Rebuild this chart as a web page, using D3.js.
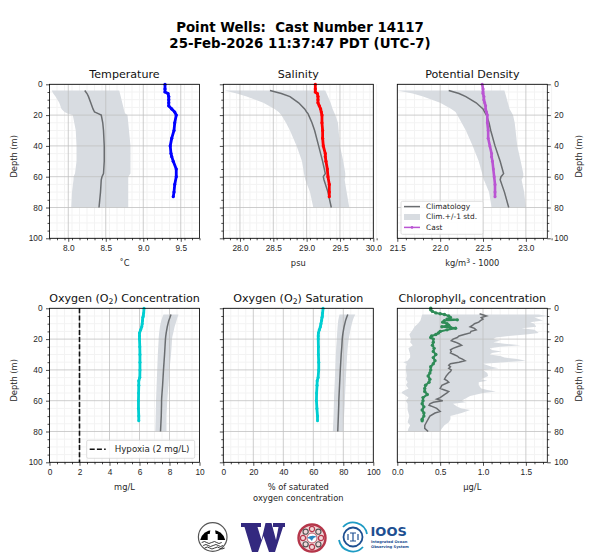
<!DOCTYPE html>
<html>
<head>
<meta charset="utf-8">
<script src="https://cdn.jsdelivr.net/npm/d3@7"></script>
<style>
  body { margin: 0; background: #fff; }
  svg { display: block; font-family: "DejaVu Sans", sans-serif; }
  .tick text { font-size: 8.3px; fill: #262626; }
  .axis path, .axis line { stroke: #000; stroke-width: 0.7; }
  .grid-major { stroke: #c0c0c0; stroke-width: 0.8; }
  .grid-minor { stroke: #f3f3f3; stroke-width: 1; }
  .panel-title { font-size: 11.1px; fill: #111; text-anchor: middle; }
  .axis-title { font-size: 8.3px; fill: #262626; text-anchor: middle; }
</style>
</head>
<body>
<svg id="chart" width="600" height="560"></svg>
<script>
// Depths shared by the climatology and cast profiles of the first five panels
const climDepth = [4, 6, 8, 12, 16, 18, 19, 20, 25, 30, 40, 50, 58, 60, 62, 70, 80];
const castDepth = [0, 3, 5, 6, 8, 10, 12, 14, 16, 18, 20, 25, 30, 35, 40, 45, 47, 50, 55, 60, 65, 70, 73];

const tempMean = [8.22, 8.25, 8.27, 8.30, 8.33, 8.35, 8.40, 8.44, 8.46, 8.47, 8.48, 8.48, 8.47, 8.45, 8.44, 8.43, 8.41];
const tempLow = [7.78, 7.80, 7.83, 7.88, 7.91, 7.95, 7.99, 8.06, 8.08, 8.10, 8.11, 8.11, 8.09, 8.07, 8.07, 8.05, 8.04];
const tempHigh = [8.68, 8.69, 8.70, 8.72, 8.74, 8.75, 8.76, 8.79, 8.80, 8.81, 8.83, 8.83, 8.83, 8.80, 8.80, 8.80, 8.80];
const tempCast = [9.29, 9.29, 9.29, 9.33, 9.34, 9.34, 9.34, 9.34, 9.38, 9.42, 9.44, 9.42, 9.41, 9.38, 9.36, 9.37, 9.38, 9.40, 9.44, 9.44, 9.42, 9.41, 9.40];

const salMean = [28.45, 28.62, 28.75, 28.88, 28.97, 29.0, 29.02, 29.03, 29.08, 29.12, 29.18, 29.24, 29.28, 29.25, 29.26, 29.32, 29.37];
const salLow = [27.77, 27.95, 28.1, 28.35, 28.52, 28.58, 28.6, 28.62, 28.69, 28.75, 28.85, 28.93, 28.96, 28.97, 28.98, 29.05, 29.10];
const salHigh = [29.28, 29.3, 29.32, 29.36, 29.39, 29.41, 29.42, 29.43, 29.47, 29.48, 29.5, 29.55, 29.58, 29.58, 29.57, 29.6, 29.64];
const salCast = [29.13, 29.13, 29.13, 29.16, 29.17, 29.17, 29.17, 29.19, 29.21, 29.22, 29.23, 29.23, 29.24, 29.24, 29.25, 29.28, 29.28, 29.29, 29.31, 29.32, 29.34, 29.34, 29.34];

const densMean = [22.1, 22.22, 22.3, 22.42, 22.5, 22.52, 22.53, 22.54, 22.57, 22.59, 22.64, 22.7, 22.74, 22.71, 22.7, 22.75, 22.8];
const densLow = [21.5, 21.68, 21.8, 22.0, 22.13, 22.18, 22.19, 22.2, 22.25, 22.3, 22.38, 22.45, 22.49, 22.5, 22.51, 22.57, 22.6];
const densHigh = [22.75, 22.76, 22.77, 22.79, 22.81, 22.83, 22.84, 22.85, 22.87, 22.88, 22.9, 22.94, 22.97, 22.97, 22.95, 22.98, 23.0];
const densCast = [22.49, 22.5, 22.5, 22.5, 22.51, 22.51, 22.52, 22.53, 22.53, 22.54, 22.55, 22.55, 22.56, 22.56, 22.58, 22.6, 22.6, 22.61, 22.62, 22.63, 22.64, 22.64, 22.64];

const oxyMean = [8.1, 8.03, 7.95, 7.85, 7.78, 7.75, 7.74, 7.73, 7.7, 7.67, 7.6, 7.54, 7.48, 7.47, 7.47, 7.45, 7.4];
const oxyLow = [7.6, 7.52, 7.45, 7.36, 7.31, 7.29, 7.28, 7.28, 7.25, 7.22, 7.18, 7.14, 7.11, 7.1, 7.1, 7.08, 7.05];
const oxyHigh = [8.6, 8.53, 8.47, 8.34, 8.25, 8.2, 8.18, 8.17, 8.14, 8.1, 8.0, 7.93, 7.87, 7.85, 7.84, 7.8, 7.8];
const oxyCast = [6.3, 6.28, 6.25, 6.22, 6.2, 6.18, 6.15, 6.08, 6.0, 6.0, 6.0, 6.02, 6.03, 6.03, 6.03, 6.02, 5.95, 5.95, 5.94, 5.93, 5.93, 5.95, 5.95];
const hypoxiaLevel = 2;

const satMean = [83, 82.2, 81.5, 80.5, 79.8, 79.5, 79.4, 79.3, 79, 78.6, 78, 77.5, 77.1, 77, 77, 76.7, 76.3];
const satLow = [77.5, 77, 76.6, 76.2, 75.9, 75.8, 75.7, 75.7, 75.3, 75, 74.6, 74.2, 73.8, 73.8, 73.7, 73.5, 73];
const satHigh = [88, 87, 86.3, 85.2, 84.4, 84, 83.8, 83.6, 83, 82.6, 82, 81.5, 81.1, 81, 81, 80.5, 80];
const satCast = [66.5, 66.2, 66, 65.8, 65.5, 65.1, 64.7, 64, 63.4, 63.3, 63.3, 63.4, 63.4, 63.6, 63.6, 63.2, 62.6, 62.5, 62.2, 62.1, 62.4, 62.8, 62.8];

// Chlorophyll is much noisier, so it keeps its own depth lists
const chlMeanDepth = [3.5, 5, 6, 7, 8, 9, 10, 11, 12, 13, 14, 15, 16, 17, 18, 19, 20, 21, 22, 23, 24, 25, 26, 27, 28, 29, 30, 31, 32, 33, 34, 35, 36, 37, 38, 39, 40, 41, 42, 44, 46, 47, 48, 50, 52, 53, 54, 55, 56, 58, 59, 60, 61, 62, 63, 64, 65, 67, 68, 70, 72, 74, 76, 78, 80];
const chlMean = [0.96, 1.04, 0.98, 1.0, 0.97, 0.95, 0.9, 0.88, 0.85, 0.9, 0.92, 0.86, 0.85, 0.78, 0.72, 0.7, 0.65, 0.63, 0.68, 0.72, 0.75, 0.7, 0.65, 0.62, 0.63, 0.62, 0.66, 0.7, 0.72, 0.76, 0.79, 0.72, 0.62, 0.6, 0.62, 0.6, 0.63, 0.62, 0.6, 0.57, 0.55, 0.58, 0.6, 0.52, 0.5, 0.55, 0.6, 0.58, 0.55, 0.5, 0.46, 0.53, 0.42, 0.38, 0.37, 0.42, 0.46, 0.5, 0.44, 0.38, 0.36, 0.34, 0.32, 0.32, 0.36];
const chlLowDepth = [4, 8, 10, 12, 14, 17, 20, 22, 24, 26, 28, 30, 32, 34, 35, 36, 38, 40, 44, 46, 48, 50, 52, 54, 55, 56, 58, 60, 62, 66, 70, 74, 76, 78, 80];
const chlLow = [0.29, 0.27, 0.24, 0.2, 0.18, 0.14, 0.16, 0.15, 0.18, 0.13, 0.14, 0.15, 0.15, 0.12, 0.07, 0.11, 0.1, 0.1, 0.11, 0.1, 0.12, 0.1, 0.13, 0.06, 0.05, 0.08, 0.13, 0.1, 0.12, 0.12, 0.14, 0.12, 0.15, 0.13, 0.12];
const chlHighDepth = [4, 5, 6, 8, 9, 10, 12, 13, 14, 16, 17, 18, 19, 20, 21, 22, 23, 24, 25, 26, 27, 28, 29, 30, 31, 32, 33, 34, 35, 36, 37, 38, 39, 40, 42, 44, 46, 47, 48, 50, 52, 53, 54, 55, 57, 59, 60, 61, 62, 64, 65, 66, 67, 68, 70, 72, 74, 76, 78, 80];
const chlHigh = [1.65, 1.75, 1.6, 1.7, 1.55, 1.6, 1.62, 1.45, 1.6, 1.65, 1.5, 1.3, 1.15, 1.12, 1.2, 1.12, 1.25, 1.44, 1.2, 1.08, 1.1, 1.22, 1.1, 1.08, 1.2, 1.25, 1.4, 1.5, 1.25, 1.0, 1.05, 1.1, 1.18, 1.0, 1.05, 1.06, 0.98, 1.05, 0.95, 0.95, 0.98, 1.05, 1.15, 1.0, 0.85, 0.78, 0.75, 0.8, 0.65, 0.7, 0.75, 0.85, 0.8, 0.75, 0.62, 0.62, 0.6, 0.55, 0.52, 0.5];
const chlCastDepth = [0, 1, 2, 3, 3.5, 4, 5, 6, 7, 7.5, 8, 9, 10, 11, 12, 12.5, 13, 14, 15, 16, 17, 18, 19, 20, 22, 24, 26, 28, 30, 32, 34, 36, 38, 40, 42, 44, 46, 48, 50, 52, 54, 56, 58, 60, 62, 64, 66, 68, 70, 72, 73];
const chlCast = [0.39, 0.39, 0.41, 0.45, 0.5, 0.55, 0.6, 0.62, 0.58, 0.7, 0.55, 0.53, 0.58, 0.6, 0.52, 0.62, 0.68, 0.58, 0.5, 0.48, 0.45, 0.4, 0.39, 0.42, 0.42, 0.41, 0.43, 0.42, 0.45, 0.42, 0.44, 0.42, 0.39, 0.39, 0.38, 0.36, 0.38, 0.37, 0.33, 0.32, 0.32, 0.35, 0.3, 0.3, 0.29, 0.31, 0.29, 0.31, 0.31, 0.29, 0.29];

const depthTicks = [0, 20, 40, 60, 80, 100];
const legendLabels = ['Climatology', 'Clim.+/-1 std.', 'Cast'];

const plotWidth = 150;
const plotHeight = 154;
const climColor = '#6a6d70';
const bandColor = '#d8dce1';

const svg = d3.select('#chart');
const pairs = (depths, values) => depths.map((d, i) => [values[i], d]);

function drawPanel(cfg) {
  const x = d3.scaleLinear().domain(cfg.xDomain).range([0, plotWidth]);
  const y = d3.scaleLinear().domain([0, 100]).range([0, plotHeight]);
  const g = svg.append('g').attr('transform', `translate(${cfg.left},${cfg.top})`);
  const clipId = 'clip-' + cfg.name;

  g.append('clipPath').attr('id', clipId).append('rect')
    .attr('width', plotWidth).attr('height', plotHeight);

  const xMinor = d3.range(cfg.xDomain[0], cfg.xDomain[1] + cfg.xStep / 2, cfg.xStep)
    .filter(v => !cfg.xTicks.some(t => Math.abs(t - v) < 1e-6));
  const yMinor = d3.range(0, 101, 5).filter(v => v % 20 !== 0);

  // Minor grid first, the band and major grid go over it
  g.selectAll('.minor-x').data(xMinor).join('line').attr('class', 'grid-minor')
    .attr('x1', d => x(d)).attr('x2', d => x(d)).attr('y2', plotHeight);
  g.selectAll('.minor-y').data(yMinor).join('line').attr('class', 'grid-minor')
    .attr('y1', d => y(d)).attr('y2', d => y(d)).attr('x2', plotWidth);

  const band = cfg.lowDepth.map((d, i) => [cfg.low[i], d])
    .concat(cfg.highDepth.map((d, i) => [cfg.high[i], d]).reverse());
  g.append('path')
    .attr('clip-path', `url(#${clipId})`)
    .attr('d', d3.line().x(d => x(d[0])).y(d => y(d[1]))(band) + 'Z')
    .attr('fill', bandColor);

  g.selectAll('.major-x').data(cfg.xTicks).join('line').attr('class', 'grid-major')
    .attr('x1', d => x(d)).attr('x2', d => x(d)).attr('y2', plotHeight);
  g.selectAll('.major-y').data(depthTicks).join('line').attr('class', 'grid-major')
    .attr('y1', d => y(d)).attr('y2', d => y(d)).attr('x2', plotWidth);

  const line = d3.line().x(d => x(d[0])).y(d => y(d[1]));
  g.append('path')
    .attr('clip-path', `url(#${clipId})`)
    .attr('d', line(pairs(cfg.meanDepth, cfg.mean)))
    .attr('fill', 'none').attr('stroke', climColor).attr('stroke-width', 1.5);

  if (cfg.hypoxia !== undefined) {
    g.append('line')
      .attr('x1', x(cfg.hypoxia)).attr('x2', x(cfg.hypoxia)).attr('y2', plotHeight)
      .attr('stroke', '#111').attr('stroke-width', 1.6).attr('stroke-dasharray', '5,2.2');
  }

  const cast = pairs(cfg.castDepth, cfg.cast);
  g.append('path')
    .attr('clip-path', `url(#${clipId})`)
    .attr('d', line(cast))
    .attr('fill', 'none').attr('stroke', cfg.castColor).attr('stroke-width', cfg.castWidth);
  g.selectAll('.cast-pt').data(cast).join('circle')
    .attr('cx', d => x(d[0])).attr('cy', d => y(d[1])).attr('r', cfg.castRadius)
    .attr('fill', cfg.castColor);

  // Axes
  const xAxis = g.append('g').attr('class', 'axis').attr('transform', `translate(0,${plotHeight})`)
    .call(d3.axisBottom(x).tickValues(cfg.xTicks).tickFormat(cfg.xFormat).tickSize(3.5).tickPadding(3.5));
  xAxis.select('.domain').remove();
  g.append('g').attr('class', 'axis').attr('transform', `translate(0,${plotHeight})`)
    .call(d3.axisBottom(x).tickValues(xMinor).tickFormat('').tickSize(2))
    .select('.domain').remove();

  const yAxisFn = cfg.yRight ? d3.axisRight : d3.axisLeft;
  const yOffset = cfg.yRight ? plotWidth : 0;
  const yAxis = g.append('g').attr('class', 'axis').attr('transform', `translate(${yOffset},0)`)
    .call(yAxisFn(y).tickValues(depthTicks).tickFormat(cfg.yLabels ? d3.format('d') : '').tickSize(3.5).tickPadding(3.5));
  yAxis.select('.domain').remove();
  g.append('g').attr('class', 'axis').attr('transform', `translate(${yOffset},0)`)
    .call(yAxisFn(y).tickValues(yMinor).tickFormat('').tickSize(2))
    .select('.domain').remove();

  g.append('rect').attr('width', plotWidth).attr('height', plotHeight)
    .attr('fill', 'none').attr('stroke', '#000').attr('stroke-width', 0.8);

  // Titles
  const title = g.append('text').attr('class', 'panel-title').attr('x', plotWidth / 2).attr('y', -6.5);
  cfg.title(title);

  const xLabel = g.append('text').attr('class', 'axis-title').attr('x', plotWidth / 2).attr('y', plotHeight + 28);
  cfg.xLabel(xLabel);

  if (cfg.yLabels) {
    const lx = cfg.yRight ? plotWidth + 34.5 : -33;
    g.append('text').attr('class', 'axis-title')
      .attr('transform', `translate(${lx},${plotHeight / 2 - 5}) rotate(-90)`)
      .text('Depth (m)');
  }
  return g;
}

function plain(str) { return t => t.text(str); }
function withSub(before, sub, after, italic) {
  return t => {
    t.append('tspan').text(before);
    t.append('tspan').attr('dy', 2).attr('font-size', 7.7).attr('font-style', italic ? 'italic' : null).text(sub);
    t.append('tspan').attr('dy', -2).text(after);
  };
}

const topRow = 84.3;
const bottomRow = 308.3;
const lefts = [49.5, 223.3, 397.3];

drawPanel({
  name: 'temp', left: lefts[0], top: topRow, xDomain: [7.75, 9.75], xTicks: [8, 8.5, 9, 9.5], xStep: 0.1,
  xFormat: d3.format('.1f'), yLabels: true, title: plain('Temperature'), xLabel: plain('\u02daC'),
  meanDepth: climDepth, mean: tempMean, lowDepth: climDepth, low: tempLow, highDepth: climDepth, high: tempHigh,
  castDepth: castDepth, cast: tempCast, castColor: '#0000ff', castWidth: 2.8, castRadius: 1.6
});

drawPanel({
  name: 'sal', left: lefts[1], top: topRow, xDomain: [27.75, 30], xTicks: [28, 28.5, 29, 29.5, 30], xStep: 0.1,
  xFormat: d3.format('.1f'), yLabels: false, title: plain('Salinity'), xLabel: plain('psu'),
  meanDepth: climDepth, mean: salMean, lowDepth: climDepth, low: salLow, highDepth: climDepth, high: salHigh,
  castDepth: castDepth, cast: salCast, castColor: '#ff0000', castWidth: 2.8, castRadius: 1.6
});

const densG = drawPanel({
  name: 'dens', left: lefts[2], top: topRow, xDomain: [21.5, 23.25], xTicks: [21.5, 22, 22.5, 23], xStep: 0.1,
  xFormat: d3.format('.1f'), yLabels: true, yRight: true, title: plain('Potential Density'),
  xLabel: t => {
    t.append('tspan').text('kg/m');
    t.append('tspan').attr('dy', -3).attr('font-size', 6).text('3');
    t.append('tspan').attr('dy', 3).text(' - 1000');
  },
  meanDepth: climDepth, mean: densMean, lowDepth: climDepth, low: densLow, highDepth: climDepth, high: densHigh,
  castDepth: castDepth, cast: densCast, castColor: '#ba55d3', castWidth: 2.6, castRadius: 1.5
});

const oxyG = drawPanel({
  name: 'oxy', left: lefts[0], top: bottomRow, xDomain: [0, 10], xTicks: [0, 2, 4, 6, 8, 10], xStep: 0.5,
  xFormat: d3.format('d'), yLabels: true, title: withSub('Oxygen (O', '2', ') Concentration'), xLabel: plain('mg/L'),
  meanDepth: climDepth, mean: oxyMean, lowDepth: climDepth, low: oxyLow, highDepth: climDepth, high: oxyHigh,
  castDepth: castDepth, cast: oxyCast, castColor: '#00ced1', castWidth: 2.8, castRadius: 1.5, hypoxia: hypoxiaLevel
});

drawPanel({
  name: 'sat', left: lefts[1], top: bottomRow, xDomain: [0, 100], xTicks: [0, 20, 40, 60, 80, 100], xStep: 5,
  xFormat: d3.format('d'), yLabels: false, title: withSub('Oxygen (O', '2', ') Saturation'),
  xLabel: t => {
    t.append('tspan').attr('x', plotWidth / 2).text('% of saturated');
    t.append('tspan').attr('x', plotWidth / 2).attr('dy', 11).text('oxygen concentration');
  },
  meanDepth: climDepth, mean: satMean, lowDepth: climDepth, low: satLow, highDepth: climDepth, high: satHigh,
  castDepth: castDepth, cast: satCast, castColor: '#00ced1', castWidth: 2.8, castRadius: 1.5
});

drawPanel({
  name: 'chl', left: lefts[2], top: bottomRow, xDomain: [0, 1.75], xTicks: [0, 0.5, 1, 1.5], xStep: 0.1,
  xFormat: d3.format('.1f'), yLabels: true, yRight: true, title: withSub('Chlorophyll', 'a', ' concentration', true),
  xLabel: plain('\u03bcg/L'),
  meanDepth: chlMeanDepth, mean: chlMean, lowDepth: chlLowDepth, low: chlLow, highDepth: chlHighDepth, high: chlHigh,
  castDepth: chlCastDepth, cast: chlCast, castColor: '#2e8b57', castWidth: 2, castRadius: 1.7
});

// Legends
const legend = densG.append('g').attr('transform', 'translate(3.7,117)');
legend.append('rect').attr('width', 82).attr('height', 33).attr('rx', 1.5)
  .attr('fill', '#fff').attr('fill-opacity', 0.85).attr('stroke', '#d5d5d5').attr('stroke-width', 0.8);
legendLabels.forEach((label, i) => {
  const ly = 5.3 + i * 10.4;
  if (i === 1) {
    legend.append('rect').attr('x', 3).attr('y', ly - 3).attr('width', 16).attr('height', 6).attr('fill', bandColor);
  } else {
    const c = i === 0 ? climColor : '#ba55d3';
    legend.append('line').attr('x1', 3).attr('x2', 19).attr('y1', ly).attr('y2', ly)
      .attr('stroke', c).attr('stroke-width', 1.5);
    if (i === 2) legend.append('circle').attr('cx', 11).attr('cy', ly).attr('r', 1.3).attr('fill', c);
  }
  legend.append('text').attr('x', 25).attr('y', ly + 2.4)
    .attr('font-size', 7.4).attr('fill', '#222').text(label);
});

const hypLegend = oxyG.append('g').attr('transform', 'translate(37.2,132)');
hypLegend.append('rect').attr('width', 108).attr('height', 18).attr('rx', 1.5)
  .attr('fill', '#fff').attr('fill-opacity', 0.85).attr('stroke', '#d5d5d5').attr('stroke-width', 0.8);
hypLegend.append('line').attr('x1', 3).attr('x2', 19).attr('y1', 9).attr('y2', 9)
  .attr('stroke', '#111').attr('stroke-width', 1.6).attr('stroke-dasharray', '5,2.2');
hypLegend.append('text').attr('x', 28).attr('y', 12)
  .attr('font-size', 8.7).attr('fill', '#262626').text('Hypoxia (2 mg/L)');

// Main title
svg.append('text').attr('x', 300).attr('y', 32).attr('text-anchor', 'middle')
  .attr('font-size', 13.35).attr('font-weight', 'bold').attr('fill', '#000').attr('xml:space', 'preserve')
  .text('Point Wells:  Cast Number 14117');
svg.append('text').attr('x', 300).attr('y', 48).attr('text-anchor', 'middle')
  .attr('font-size', 13.35).attr('font-weight', 'bold').attr('fill', '#000')
  .text('25-Feb-2026 11:37:47 PDT (UTC-7)');

// Logos along the bottom, rough redraws of the original images
const buoy = svg.append('g').attr('transform', 'translate(212.7,537)');
buoy.append('circle').attr('r', 14.3).attr('fill', '#fff').attr('stroke', '#555').attr('stroke-width', 1.2);
buoy.append('path').attr('d', 'M-12.5,3A12.8,12.8 0 0 1 12.5,3Z').attr('fill', '#000');
buoy.append('path').attr('d', 'M-2,-9H2L3,-3H5V3H-5V-3H-3Z').attr('fill', '#fff');
[5.5, 8.5, 11].forEach((wy, i) => {
  buoy.append('path')
    .attr('d', `M${-11 + i * 1.5},${wy}q3,-2 5,0t5,0t5,0t5,0`)
    .attr('fill', 'none').attr('stroke', '#222').attr('stroke-width', 0.9);
});

svg.append('path')
  .attr('d', 'M241,523H261V527H257.5L261.5,540L265.5,523H271.5L276,540L278.5,527H273V523H285V527H283L275,552H269L263.5,536L258,552H252L244.5,527H241Z')
  .attr('fill', '#33297f');

const seal = svg.append('g').attr('transform', 'translate(312,538)');
seal.append('circle').attr('r', 13.5).attr('fill', '#f0d8da').attr('stroke', '#b5364a').attr('stroke-width', 2.4);
d3.range(0, 360, 45).forEach(a => {
  seal.append('circle')
    .attr('cx', 9 * Math.cos(a * Math.PI / 180)).attr('cy', 9 * Math.sin(a * Math.PI / 180)).attr('r', 2.6)
    .attr('fill', 'none').attr('stroke', a % 90 === 0 ? '#b5364a' : '#555').attr('stroke-width', 1.2);
});
seal.append('circle').attr('r', 5).attr('fill', '#fff').attr('stroke', '#b5364a').attr('stroke-width', 0.8);
seal.append('path').attr('d', 'M-5,0Q0,-4 5,-1Q1,-1 0,3Q-2,0 -5,0Z').attr('fill', '#2a86c0');

const ioos = svg.append('g').attr('transform', 'translate(353,537)');
ioos.append('path').attr('d', 'M-10,-10A14,14 0 0 1 14,-3').attr('fill', 'none').attr('stroke', '#1e9bc4').attr('stroke-width', 1.8);
ioos.append('path').attr('d', 'M10,10A14,14 0 0 1 -14,3').attr('fill', 'none').attr('stroke', '#1e9bc4').attr('stroke-width', 1.8);
ioos.append('circle').attr('r', 9.5).attr('fill', 'none').attr('stroke', '#1d4f91').attr('stroke-width', 1.8);
ioos.append('path').attr('d', 'M-3,-4H3M-3,4H3M0,-4V4M-5,-3V3M5,-3V3').attr('fill', 'none').attr('stroke', '#1d4f91').attr('stroke-width', 1.2);
svg.append('text').attr('x', 370.5).attr('y', 536).attr('font-size', 13).attr('font-weight', 'bold')
  .attr('fill', '#1d4f91').text('IOOS');
svg.append('text').attr('x', 371).attr('y', 542.5).attr('font-size', 3.7).attr('font-weight', 'bold')
  .attr('fill', '#1d4f91').text('Integrated Ocean');
svg.append('text').attr('x', 371).attr('y', 547.5).attr('font-size', 3.7).attr('font-weight', 'bold')
  .attr('fill', '#1d4f91').text('Observing System');
</script>
</body>
</html>
